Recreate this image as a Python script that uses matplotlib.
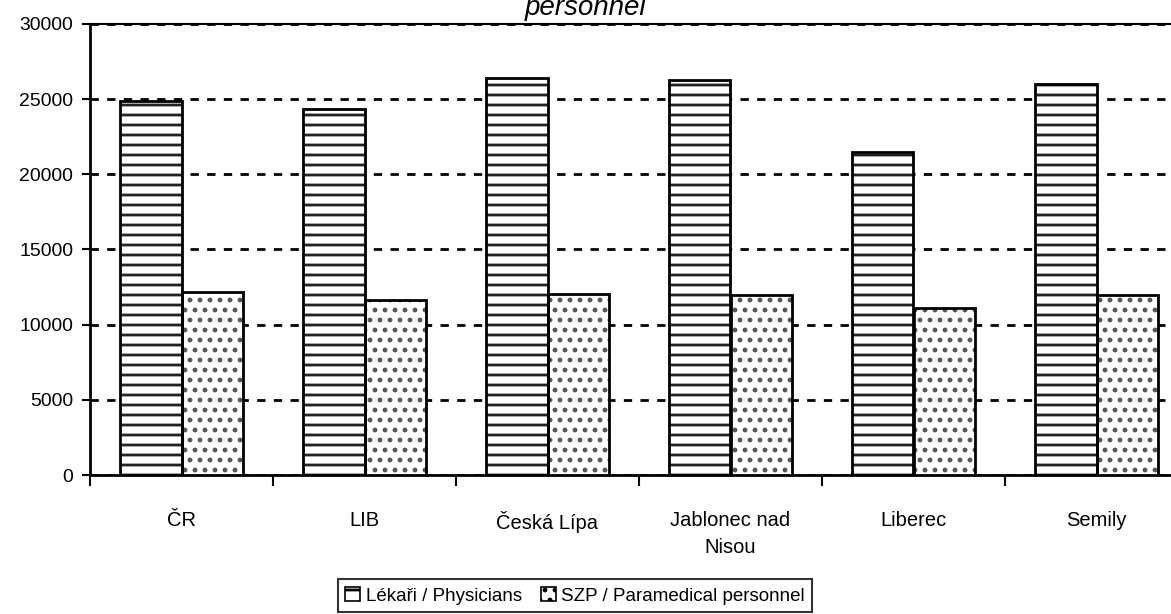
import numpy as np
import matplotlib.pyplot as plt

DPI = 120
k = 100 / DPI  # sizes below are tuned for 100 dpi, dpi 120 only widens the hatch spacing

plt.rcParams["font.family"] = ["Liberation Sans", "DejaVu Sans"]
plt.rcParams["hatch.linewidth"] = 2 * k

categories = ["ČR", "LIB", "Česká Lípa", "Jablonec nad\nNisou", "Liberec", "Semily"]
physicians = [24850, 24350, 26400, 26300, 21500, 26000]
paramedical = [12200, 11650, 12050, 11950, 11100, 11950]
series_labels = ["Lékaři / Physicians", "SZP / Paramedical personnel"]

fig = plt.figure(figsize=(1171 / DPI, 614 / DPI), dpi=DPI)
ax = fig.add_axes([90 / 1171, 1 - 475 / 614, 1098 / 1171, 451 / 614])

x = np.arange(len(categories))
w = 0.336
# hatch fill first (hatch takes the edge colour), black outline on top
ax.bar(x - w / 2, physicians, w, color="white", edgecolor="#222222",
       linewidth=0, hatch="--", zorder=3)
ax.bar(x + w / 2, paramedical, w, color="white", edgecolor="#555555",
       linewidth=0, hatch="..", zorder=3)
ax.bar(x - w / 2, physicians, w, fill=False, edgecolor="black", linewidth=2 * k, zorder=4)
ax.bar(x + w / 2, paramedical, w, fill=False, edgecolor="black", linewidth=2 * k, zorder=4)

ax.set_xlim(-0.5, len(categories) - 0.5)
ax.set_ylim(0, 30000)
ax.set_yticks(range(0, 30001, 5000))
ax.yaxis.grid(True, color="black", linestyle=(0, (3, 3)), linewidth=2 * k, zorder=1)
ax.set_axisbelow(True)

ax.set_xticks(x)
ax.set_xticklabels(categories, fontsize=14.5 * k, linespacing=1.5)
ax.set_xticks(np.arange(len(categories) + 1) - 0.5, minor=True)
ax.tick_params(axis="x", which="major", length=0, pad=26 * k)
ax.tick_params(axis="x", which="minor", length=8 * k, width=1.5 * k, direction="out")
ax.tick_params(axis="y", labelsize=14 * k, length=6 * k, width=1.5 * k,
               direction="out", pad=6 * k)

ax.spines["right"].set_visible(False)
ax.spines["left"].set_linewidth(2 * k)
ax.spines["bottom"].set_linewidth(2 * k)
ax.spines["top"].set_linewidth(1.5 * k)

fig.text(0.5, 1 - 15 / 614, "personnel", ha="center", va="baseline",
         fontsize=20 * k, style="italic")

h1 = plt.Rectangle((0, 0), 1, 1, facecolor="white", edgecolor="black", hatch="-")
h2 = plt.Rectangle((0, 0), 1, 1, facecolor="white", edgecolor="black", hatch="..")
leg = fig.legend([h1, h2], series_labels, loc="lower center",
                 bbox_to_anchor=(575 / 1171, 0.0), ncol=2,
                 fontsize=13.5 * k, frameon=True, fancybox=False, edgecolor="black",
                 handlelength=0.8, handleheight=0.8, handletextpad=0.3,
                 columnspacing=1.0, borderpad=0.4, borderaxespad=0.1)
leg.get_frame().set_linewidth(1.5 * k)

fig.savefig("out.png", dpi=DPI)
